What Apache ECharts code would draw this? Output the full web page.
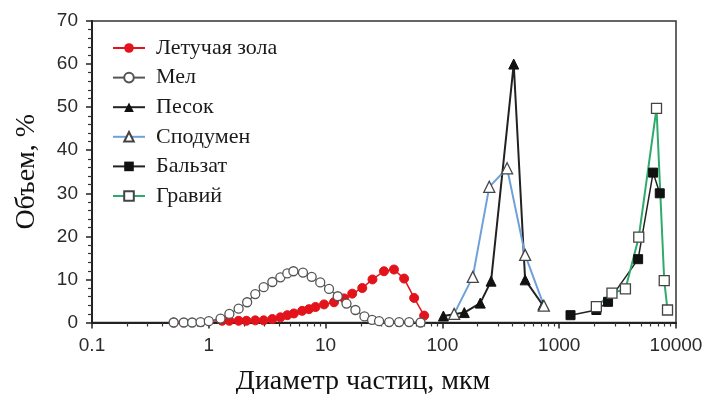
<!DOCTYPE html>
<html>
<head>
<meta charset="utf-8">
<script src="https://cdn.jsdelivr.net/npm/echarts@6/dist/echarts.min.js"></script>
<style>
  html, body { margin: 0; padding: 0; background: #fff; }
  #chart { width: 709px; height: 394px; }
</style>
</head>
<body>
<div id="chart"></div>
<script>
// particle size (мкм) and volume (%)
const ashX = [0.5, 1.3, 1.5, 1.8, 2.1, 2.5, 2.95, 3.5, 4.1, 4.7, 5.35, 6.3, 7.2, 8.2, 9.7, 11.8, 14.4, 16.9, 20.6, 25.2, 31.6, 38.5, 47, 57.3, 69.8]
const ashY = [0, 0.4, 0.4, 0.4, 0.4, 0.5, 0.5, 0.8, 1.2, 1.7, 2.1, 2.7, 3.1, 3.6, 4.2, 4.7, 5.6, 6.7, 8, 10, 11.9, 12.3, 10.2, 5.7, 1.6]

const chalkX = [0.5, 0.61, 0.72, 0.85, 1.0, 1.26, 1.5, 1.8, 2.13, 2.5, 2.95, 3.5, 4.1, 4.7, 5.3, 6.4, 7.6, 9.0, 10.7, 12.7, 15.1, 18, 21.5, 25, 28.7, 35, 42.6, 51.9, 65]
const chalkY = [0, 0, 0, 0.1, 0.3, 0.9, 2.0, 3.2, 4.7, 6.6, 8.2, 9.4, 10.5, 11.4, 11.9, 11.6, 10.6, 9.3, 7.8, 6.1, 4.4, 2.9, 1.4, 0.6, 0.3, 0.1, 0.1, 0.1, 0]

const sandX = [102, 154, 211, 261, 408, 511, 725]
const sandY = [1.5, 2.3, 4.5, 9.6, 60, 9.9, 4]

const spodX = [126, 182, 252, 358, 511, 739]
const spodY = [2, 10.6, 31.5, 35.8, 15.7, 3.9]

const basaltX = [1250, 2080, 2620, 4740, 6370, 7260]
const basaltY = [1.7, 2.9, 4.8, 14.7, 34.8, 30]

const gravelX = [2080, 2830, 3690, 4800, 6810, 7930, 8460]
const gravelY = [3.7, 6.8, 7.8, 19.8, 49.7, 9.7, 2.9]

const seriesNames = ['Летучая зола', 'Мел', 'Песок', 'Сподумен', 'Бальзат', 'Гравий']
const xMinorMultipliers = [2, 3, 4, 5, 6, 7, 8, 9]

function pairs (xs, ys) {
  return xs.map((x, i) => [x, ys[i]])
}

// minor ticks of the log axis, in log10 space for the helper axis
const minorTicks = []
for (let e = -1; e < 4; e++) {
  xMinorMultipliers.forEach(m => minorTicks.push(e + Math.log10(m)))
}

const serif = 'Liberation Serif'
const sans = 'Liberation Sans'
const gridTop = 21
const gridBottom = 71.5
const gridHeight = 394 - gridTop - gridBottom

const chart = echarts.init(document.getElementById('chart'))
chart.setOption({
  animation: false,
  backgroundColor: '#fff',
  grid: {
    left: 92,
    right: 33,
    top: gridTop,
    bottom: gridBottom,
    containLabel: false,
    outerBoundsMode: 'none',
    show: true,
    borderColor: '#333',
    borderWidth: 1.5
  },
  legend: {
    orient: 'vertical',
    left: 107,
    top: 32,
    itemWidth: 32,
    itemHeight: 12,
    itemGap: 7.6,
    data: seriesNames,
    textStyle: {
      fontFamily: serif,
      fontSize: 22,
      lineHeight: 22,
      color: '#1a1a1a',
      padding: [0, 0, 0, 6]
    }
  },
  xAxis: [{
    type: 'log',
    logBase: 10,
    min: 0.1,
    max: 10000,
    position: 'bottom',
    name: 'Диаметр частиц, мкм',
    nameLocation: 'middle',
    nameGap: 45,
    nameTextStyle: { fontFamily: serif, fontSize: 28, color: '#111', padding: [0, 42, 0, 0] },
    axisLine: { onZero: false, lineStyle: { color: '#222', width: 2 } },
    axisTick: { inside: false, length: 6, lineStyle: { color: '#222', width: 1.5 } },
    axisLabel: {
      margin: 14,
      fontFamily: sans,
      fontSize: 19,
      color: '#2a2a2a',
      formatter: v => String(+(+v).toPrecision(6))
    },
    splitLine: { show: false }
  }, {
    // helper axis only for the 2..9 minor ticks, moved down onto the bottom edge
    type: 'value',
    position: 'top',
    offset: -gridHeight,
    min: -1,
    max: 4,
    axisLine: { show: false, onZero: false },
    axisLabel: { show: false },
    splitLine: { show: false },
    axisTick: {
      show: true,
      inside: true,
      length: 4,
      customValues: minorTicks,
      lineStyle: { color: '#333', width: 1.2 }
    }
  }],
  yAxis: {
    type: 'value',
    min: 0,
    max: 70,
    interval: 10,
    name: 'Объем, %',
    nameLocation: 'middle',
    nameRotate: 90,
    nameGap: 51,
    nameTextStyle: { fontFamily: serif, fontSize: 28, color: '#111' },
    axisLine: { show: true, onZero: false, lineStyle: { color: '#222', width: 2 } },
    axisTick: { show: true, inside: false, length: 6, lineStyle: { color: '#222', width: 1.5 } },
    minorTick: { show: true, splitNumber: 5, length: 4, lineStyle: { color: '#333', width: 1.2 } },
    axisLabel: { margin: 14, fontFamily: sans, fontSize: 19, color: '#2a2a2a' },
    splitLine: { show: false }
  },
  series: [
    {
      name: seriesNames[0],
      type: 'line',
      z: 3,
      data: pairs(ashX, ashY),
      symbol: 'circle',
      symbolSize: 9,
      itemStyle: { color: '#e3131b', borderColor: '#e3131b' },
      lineStyle: { color: '#e3131b', width: 1.5 }
    },
    {
      name: seriesNames[1],
      type: 'line',
      data: pairs(chalkX, chalkY),
      symbol: 'circle',
      symbolSize: 9,
      itemStyle: { color: '#fff', borderColor: '#555', borderWidth: 1.3 },
      lineStyle: { color: '#555', width: 1.3 }
    },
    {
      name: seriesNames[2],
      type: 'line',
      data: pairs(sandX, sandY),
      symbol: 'triangle',
      symbolSize: 10,
      itemStyle: { color: '#111', borderColor: '#111' },
      lineStyle: { color: '#222', width: 2 }
    },
    {
      name: seriesNames[3],
      type: 'line',
      data: pairs(spodX, spodY),
      symbol: 'triangle',
      symbolSize: 11,
      itemStyle: { color: '#fff', borderColor: '#444', borderWidth: 1.3 },
      lineStyle: { color: '#6fa0d8', width: 2 }
    },
    {
      name: seriesNames[4],
      type: 'line',
      data: pairs(basaltX, basaltY),
      symbol: 'rect',
      symbolSize: 9,
      itemStyle: { color: '#111', borderColor: '#111' },
      lineStyle: { color: '#222', width: 1.5 }
    },
    {
      name: seriesNames[5],
      type: 'line',
      data: pairs(gravelX, gravelY),
      symbol: 'rect',
      symbolSize: 10,
      itemStyle: { color: '#fff', borderColor: '#444', borderWidth: 1.3 },
      lineStyle: { color: '#2eaa6a', width: 2 }
    }
  ]
})
</script>
</body>
</html>
